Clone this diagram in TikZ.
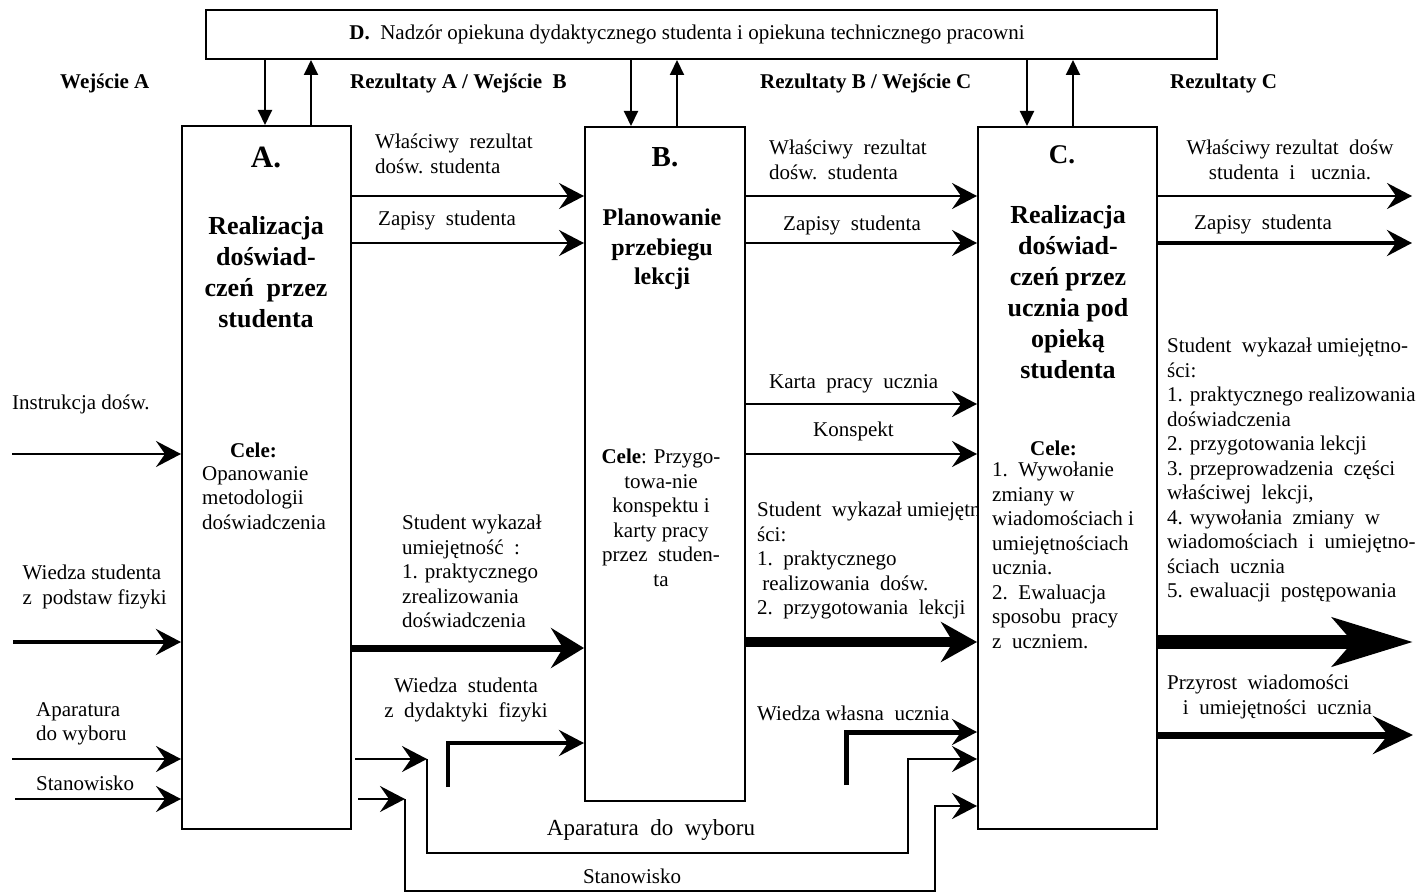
\documentclass[tikz,border=0pt]{standalone}
\usepackage{fontspec}
\setmainfont{Liberation Serif}
\usetikzlibrary{arrows.meta}
\newcommand\fsn{\fontsize{21}{24.5}\selectfont}
\newcommand\fsa{\fontsize{26}{31}\selectfont\bfseries}
\newcommand\fsb{\fontsize{24}{29.5}\selectfont\bfseries}
\begin{document}
\begin{tikzpicture}[x=1pt,y=-1pt,
  box/.style={draw, line width=2pt, inner sep=0pt, fill=none},
  txt/.style={font=\fsn, inner sep=0pt, align=left},
  txc/.style={font=\fsn, inner sep=0pt, align=center},
  lbl/.style={font=\fsn\bfseries, inner sep=0pt},
  ttl/.style={inner sep=0pt, align=center},
  plain/.style={line width=2pt, line join=miter},
  narr/.style={line width=2pt, line join=miter, -{Stealth[length=25pt,width=26pt,inset=9pt]}},
  warr/.style={line width=4pt, line join=miter, -{Stealth[length=25pt,width=26pt,inset=9pt]}},
  marrA/.style={line width=7pt, -{Stealth[length=33pt,width=40pt,inset=12pt]}},
  marrB/.style={line width=10pt, -{Stealth[length=36pt,width=40pt,inset=12pt]}},
  harr/.style={line width=14pt, -{Stealth[length=80pt,width=48pt,inset=20pt]}},
  parr/.style={line width=7pt, -{Stealth[length=40pt,width=38pt,inset=15pt]}},
  varr/.style={line width=2pt, -{Triangle[length=15pt,width=14pt]}}
]
\useasboundingbox (0,0) rectangle (1422,893);

% boxes
\node[box, minimum width=1011pt, minimum height=49pt] (D) at (711.5,34.5) {};
\node[box, minimum width=169pt, minimum height=703pt] (A) at (266.5,477.5) {};
\node[box, minimum width=160pt, minimum height=674pt] (B) at (665,464) {};
\node[box, minimum width=179pt, minimum height=702pt] (C) at (1067.5,478) {};

% D text
\node[txt, anchor=center] (tD) at (687,34) {\textbf{D.}\ \ Nadzór opiekuna dydaktycznego studenta i opiekuna technicznego pracowni};

% header labels
\node[lbl, anchor=west] (hA) at (60,83) {Wejście A};
\node[lbl, anchor=west] (hAB) at (350,83) {Rezultaty A / Wejście\ \ B};
\node[lbl, anchor=west] (hBC) at (760,83) {Rezultaty B / Wejście C};
\node[lbl, anchor=west] (hC) at (1170,83) {Rezultaty C};

% D <-> boxes
\draw[varr] (D.south -| 265,0) -- (A.north -| 265,0);
\draw[varr] (A.north -| 311,0) -- (D.south -| 311,0);
\draw[varr] (D.south -| 631,0) -- (B.north -| 631,0);
\draw[varr] (B.north -| 677,0) -- (D.south -| 677,0);
\draw[varr] (D.south -| 1027,0) -- (C.north -| 1027,0);
\draw[varr] (C.north -| 1073,0) -- (D.south -| 1073,0);

% Box A text
\node[ttl, font=\fontsize{31}{36}\selectfont\bfseries, anchor=center] (tA) at (266,157) {A.};
\node[ttl, font=\fsa, anchor=north] (tA2) at (266,216) {Realizacja\\doświad-\\czeń\ \ przez\\studenta};
\node[lbl, anchor=west] (cA) at (230,450) {Cele:};
\node[txt, anchor=north west] (gA) at (202,466) {Opanowanie\\metodologii\\doświadczenia};

% Box B text
\node[ttl, font=\fontsize{29}{34}\selectfont\bfseries, anchor=center] (tB) at (665,157) {B.};
\node[ttl, font=\fsb, anchor=north] (tB2) at (662,209) {Planowanie\\przebiegu\\lekcji};
\node[txc, anchor=north] (gB) at (661,449) {\textbf{Cele}: Przygo-\\towa-nie\\konspektu i\\karty pracy\\przez\ \ studen-\\ta};

% Box C text
\node[ttl, font=\fontsize{27}{32}\selectfont\bfseries, anchor=center] (tC) at (1062,155) {C.};
\node[ttl, font=\fsa, anchor=north] (tC2) at (1068,205) {Realizacja\\doświad-\\czeń przez\\ucznia pod\\opieką\\studenta};
\node[lbl, anchor=west] (cC) at (1030,448) {Cele:};
\node[txt, anchor=north west] (gC) at (992,462) {1.\ \ Wywołanie\\zmiany w\\wiadomościach i\\umiejętnościach\\ucznia.\\2.\ \ Ewaluacja\\sposobu\ \ pracy\\z\ \ uczniem.};

% left inputs
\node[txt, anchor=west] (lI) at (12,404) {Instrukcja dośw.};
\node[txc, anchor=north] (lW) at (92,565) {Wiedza studenta\\\ z\ \ podstaw fizyki};
\node[txt, anchor=north west] (lAp) at (36,702) {Aparatura\\do wyboru};
\node[txt, anchor=west] (lSt) at (36,783) {Stanowisko};
\draw[narr] (12,454) -- (A.west |- 0,454);
\draw[warr] (13,642) -- (A.west |- 0,642);
\draw[narr] (12,759) -- (A.west |- 0,759);
\draw[narr] (15,799) -- (A.west |- 0,799);

% A -> B
\node[txt, anchor=north west] (ab1) at (375,134) {Właściwy\ \ rezultat\\dośw. studenta};
\node[txt, anchor=west] (ab2) at (378,220) {Zapisy\ \ studenta};
\node[txt, anchor=north west] (ab3) at (402,515) {Student wykazał\\umiejętność\ \ :\\1. praktycznego\\zrealizowania\\doświadczenia};
\node[txc, anchor=north] (ab4) at (466,678) {Wiedza\ \ studenta\\z\ \ dydaktyki\ \ fizyki};
\draw[narr] (A.east |- 0,196) -- (B.west |- 0,196);
\draw[narr] (A.east |- 0,243) -- (B.west |- 0,243);
\draw[marrA] (A.east |- 0,648) -- (B.west |- 0,648);
\coordinate (wdA) at (448,787);
\draw[line width=4pt, line join=miter, -{Stealth[length=25pt,width=26pt,inset=9pt]}] (wdA) -- (448,743) -- (B.west |- 0,743);

% Aparatura / Stanowisko routing
\coordinate (apM) at (427,759);
\coordinate (stM) at (405,799);
\draw[narr, shorten <=3pt] (A.east |- apM) -- (apM);
\draw[narr, shorten <=6pt] (A.east |- stM) -- (stM);
\draw[narr] (apM) -- (427,853) -- (908,853) -- (908,759) -- (C.west |- 0,759);
\draw[narr] (stM) -- (405,891) -- (935,891) -- (935,806) -- (C.west |- 0,806);
\node[txc, font=\fontsize{23}{27}\selectfont, anchor=center] (lAp2) at (651,830) {Aparatura\ \ do\ \ wyboru};
\node[txc, anchor=center] (lSt2) at (632,876) {Stanowisko};

% B -> C
\node[txt, anchor=north west] (bc1) at (769,140) {Właściwy\ \ rezultat\\dośw.\ \ studenta};
\node[txt, anchor=west] (bc2) at (783,225) {Zapisy\ \ studenta};
\node[txt, anchor=west] (bc3) at (769,384) {Karta\ \ pracy\ \ ucznia};
\node[txt, anchor=west] (bc4) at (813,431) {Konspekt};
\begin{scope}
\clip (B.east |- 0,480) rectangle (C.west |- 0,630);
\node[txt, anchor=north west] (bc5) at (757,502) {Student\ \ wykazał umiejętno-\\ści:\\1.\ \ praktycznego\\\ realizowania\ \ dośw.\\2.\ \ przygotowania\ \ lekcji};
\end{scope}
\node[txt, anchor=west] (bc6) at (757,713) {Wiedza własna\ \ ucznia};
\draw[narr] (B.east |- 0,196) -- (C.west |- 0,196);
\draw[narr] (B.east |- 0,243) -- (C.west |- 0,243);
\draw[narr] (B.east |- 0,404) -- (C.west |- 0,404);
\draw[narr] (B.east |- 0,454) -- (C.west |- 0,454);
\draw[marrB] (B.east |- 0,642) -- (C.west |- 0,642);
\coordinate (wwB) at (846,785);
\draw[line width=5pt, line join=miter, -{Stealth[length=25pt,width=26pt,inset=9pt]}] (wwB) -- (846,732) -- (C.west |- 0,732);

% C outputs
\node[txc, anchor=north] (co1) at (1290,140) {Właściwy rezultat\ \ dośw\\studenta\ \ i\ \ \ ucznia.};
\node[txt, anchor=west] (co2) at (1194,224) {Zapisy\ \ studenta};
\node[txt, anchor=north west] (co3) at (1167,338) {Student\ \ wykazał umiejętno-\\ści:\\1. praktycznego realizowania\\doświadczenia\\2. przygotowania lekcji\\3. przeprowadzenia\ \ części\\właściwej\ \ lekcji,\\4. wywołania\ \ zmiany\ \ w\\wiadomościach\ \ i\ \ umiejętno-\\ściach\ \ ucznia\\5. ewaluacji\ \ postępowania};
\node[txt, anchor=north west] (co4) at (1167,675) {Przyrost\ \ wiadomości\\\ \ \ i\ \ umiejętności\ \ ucznia};
\coordinate (e1) at (1412,196);
\coordinate (e2) at (1412,243);
\coordinate (e3) at (1413,642);
\coordinate (e4) at (1413,735);
\draw[narr] (C.east |- e1) -- (e1);
\draw[warr] (C.east |- e2) -- (e2);
\draw[harr] (C.east |- e3) -- (e3);
\draw[parr] (C.east |- e4) -- (e4);
\end{tikzpicture}
\end{document}
